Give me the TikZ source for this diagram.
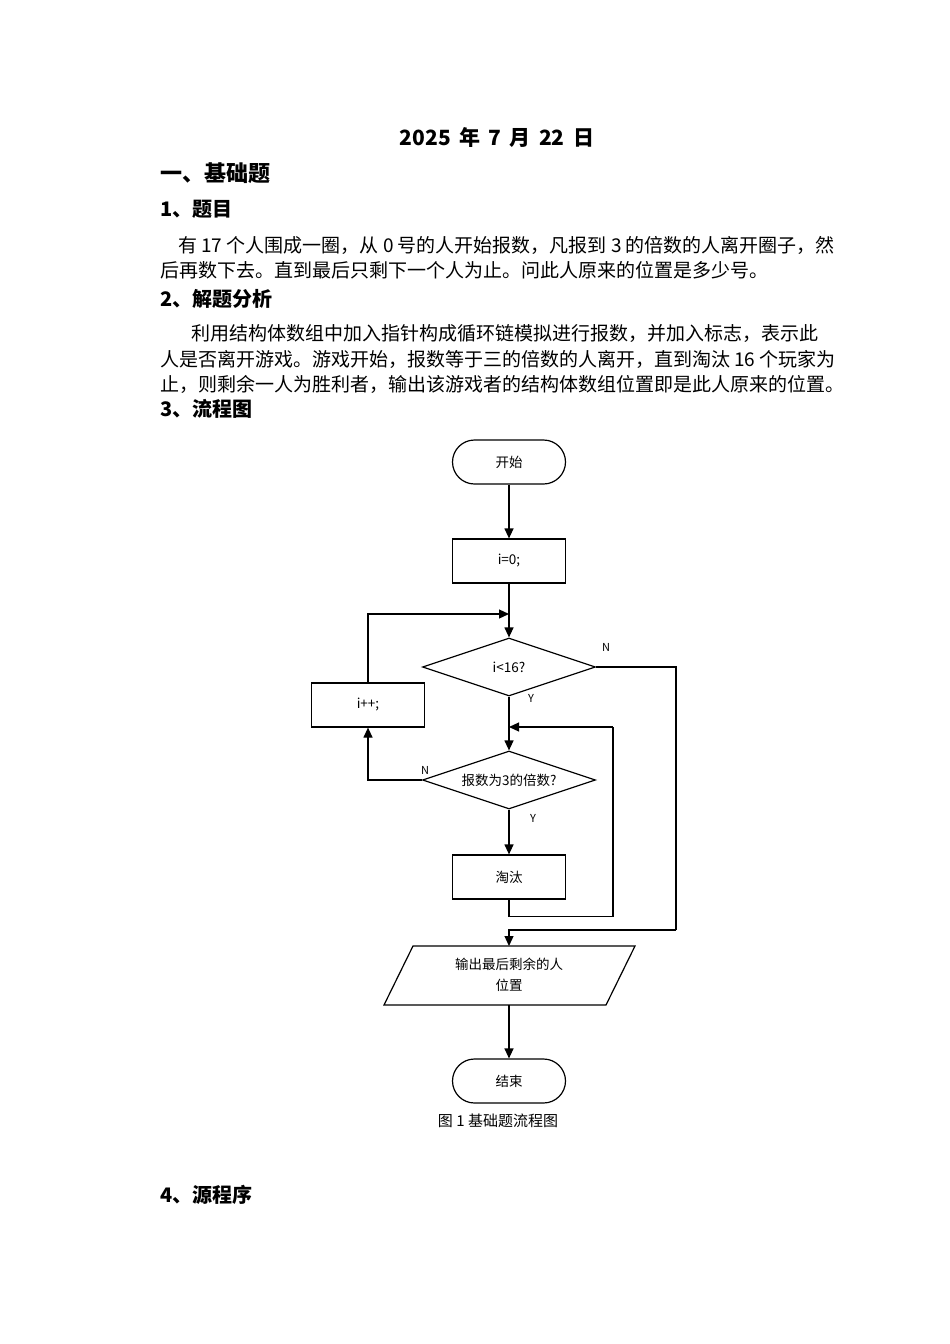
\documentclass[tikz,border=0pt]{standalone}
\usepackage{fontspec}
\setmainfont{Liberation Serif}
\newfontfamily\cjk{Noto Sans CJK SC}
\usetikzlibrary{shapes.geometric,arrows.meta}
\begin{document}
\begin{tikzpicture}[x=1pt,y=-1pt,
  box/.style={draw,line width=1.2pt,minimum width=113pt,minimum height=44pt,inner sep=0pt,font=\cjk\fontsize{13.5}{15}\selectfont},
  term/.style={box,rounded corners=22pt},
  dia/.style={draw,line width=1.2pt,diamond,aspect=3,minimum width=173pt,minimum height=58pt,inner sep=0pt,font=\cjk\fontsize{13.5}{15}\selectfont},
  lbl/.style={font=\cjk\fontsize{11}{13}\selectfont},
  arr/.style={line width=1.2pt,-{Triangle[length=10pt,width=9pt]}},
  ln/.style={line width=1.2pt},
  body/.style={anchor=west,inner sep=0pt,font=\cjk\fontsize{19}{22}\selectfont},
  head/.style={anchor=west,inner sep=0pt,font=\cjk\bfseries\fontsize{20}{23}\selectfont}]
\useasboundingbox[fill=white] (0,0) rectangle (950,1344);
\node[inner sep=0pt,font=\cjk\bfseries\fontsize{21}{23}\selectfont] (title) at (497,137) {2025\, 年\, 7\, 月\, 22\, 日};
\node[head,font=\cjk\bfseries\fontsize{22}{24}\selectfont] (h1) at (160,173) {一、基础题};
\node[head] (h2) at (160,209) {1、题目};
\node[body] (t1) at (178,245) {有 17 个人围成一圈，从 0 号的人开始报数，凡报到 3 的倍数的人离开圈子，然};
\node[body] (t2) at (160,270) {后再数下去。直到最后只剩下一个人为止。问此人原来的位置是多少号。};
\node[head] (h3) at (160,299) {2、解题分析};
\node[body] (t3) at (191,334) {利用结构体数组中加入指针构成循环链模拟进行报数，并加入标志，表示此};
\node[body] (t4) at (160,359) {人是否离开游戏。游戏开始，报数等于三的倍数的人离开，直到淘汰 16 个玩家为};
\node[body] (t5) at (160,384) {止，则剩余一人为胜利者，输出该游戏者的结构体数组位置即是此人原来的位置。};
\node[head] (h4) at (160,409) {3、流程图};
\node[head] (h5) at (160,1195) {4、源程序};

\node[term] (start) at (509,462) {开始};
\node[box] (init) at (509,561) {i=0;};
\coordinate (m1) at (509,614);
\node[dia] (d1) at (509,667) {i<16?};
\node[box] (inc) at (368,705) {i++;};
\coordinate (m2) at (509,727);
\node[dia] (d2) at (509,780) {报数为3的倍数?};
\node[box] (out) at (509,877) {淘汰};
\coordinate (m3) at (509,930);
\coordinate (rtop) at (509,946);
\coordinate (rbot) at (509,1005);
\draw[line width=1.2pt] (413,946) -- (635,946) -- (606,1005) -- (384,1005) -- cycle;
\node[inner sep=0pt,align=center,font=\cjk\fontsize{13.5}{21}\selectfont] (res) at (509,975) {输出最后剩余的人\\位置};
\node[term] (end) at (509,1081) {结束};
\node[inner sep=0pt,font=\cjk\fontsize{15}{17}\selectfont] (cap) at (498,1121) {图 1 基础题流程图};

\draw[arr] (start) -- (init);
\draw[ln] (init) -- (m1);
\draw[ln] (d1.south) -- (m2);
\draw[arr] (m2) -- (d2.north);
\draw[arr] (d2.south) -- (out);
\draw[ln] (out.south) -- ++(0,17) -| (613,727);
\draw[arr] (613,727) -- (m2);
\draw[ln] (d1.east) -| (676,930);
\draw[arr] (676,930) -- (m3) -- (rtop);
\draw[arr] (d2.west) -| (inc.south);
\draw[ln] (inc.north) |- (495,614);
\draw[arr] (inc.north |- m1) -- (m1);
\draw[arr] (m1) -- (d1.north);
\draw[arr] (rbot) -- (end);
\node[lbl] (n1) at (606,647) {N};
\node[lbl] (y1) at (531,698) {Y};
\node[lbl] (n2) at (425,770) {N};
\node[lbl] (y2) at (533,818) {Y};
\end{tikzpicture}
\end{document}
